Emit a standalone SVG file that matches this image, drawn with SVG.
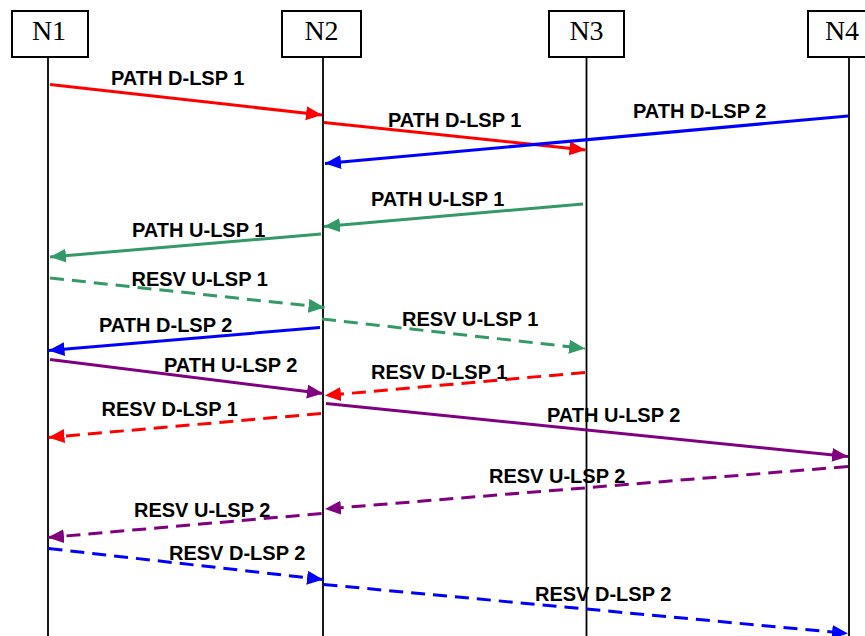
<svg xmlns="http://www.w3.org/2000/svg" width="865" height="636" viewBox="0 0 865 636">
<style>
.box{fill:#fff;stroke:#000;stroke-width:2}
.life{stroke:#000;stroke-width:1.8;fill:none}
.nt{font-family:"Liberation Serif","Times New Roman",serif;font-size:28px;fill:#000;text-anchor:middle}
.lb{font-family:"Liberation Sans",Arial,sans-serif;font-size:20px;font-weight:bold;fill:#000}
.a{fill:none;stroke-width:3}
.d{stroke-dasharray:14 8}
.red{stroke:#FF0000}.blue{stroke:#0000FF}.green{stroke:#339966}.purple{stroke:#800080}
</style>
<defs>
<marker id="mr" markerUnits="userSpaceOnUse" markerWidth="17" markerHeight="15" refX="16" refY="7" orient="auto"><path d="M0,0 L16,7 L0,14 z" fill="#FF0000"/></marker>
<marker id="mb" markerUnits="userSpaceOnUse" markerWidth="17" markerHeight="15" refX="16" refY="7" orient="auto"><path d="M0,0 L16,7 L0,14 z" fill="#0000FF"/></marker>
<marker id="mg" markerUnits="userSpaceOnUse" markerWidth="17" markerHeight="15" refX="16" refY="7" orient="auto"><path d="M0,0 L16,7 L0,14 z" fill="#339966"/></marker>
<marker id="mp" markerUnits="userSpaceOnUse" markerWidth="17" markerHeight="15" refX="16" refY="7" orient="auto"><path d="M0,0 L16,7 L0,14 z" fill="#800080"/></marker>
</defs>
<rect width="865" height="636" fill="#fff"/>
<g id="N1">
<line class="life" x1="48" y1="57" x2="48" y2="636"/>
<rect class="box" x="12" y="11" width="76" height="46"/>
<text class="nt" x="49" y="40">N1</text>
</g>
<g id="N2">
<line class="life" x1="323" y1="57" x2="323" y2="636"/>
<rect class="box" x="282" y="11" width="79" height="46"/>
<text class="nt" x="321.5" y="40">N2</text>
</g>
<g id="N3">
<line class="life" x1="586.5" y1="57" x2="586.5" y2="636"/>
<rect class="box" x="549" y="11" width="75" height="46"/>
<text class="nt" x="586.5" y="40">N3</text>
</g>
<g id="N4">
<line class="life" x1="849" y1="57" x2="849" y2="636"/>
<rect class="box" x="808" y="11" width="80" height="46"/>
<text class="nt" x="842" y="40">N4</text>
</g>
<g id="connectors">
<line class="a red" x1="50" y1="84.5" x2="322" y2="115" marker-end="url(#mr)"/>
<line class="a red" x1="324" y1="122.5" x2="585.5" y2="150" marker-end="url(#mr)"/>
<line class="a blue" x1="848" y1="116" x2="325" y2="163.5" marker-end="url(#mb)"/>
<line class="a green" x1="583" y1="204" x2="324" y2="226.5" marker-end="url(#mg)"/>
<line class="a green" x1="321" y1="234" x2="50" y2="257" marker-end="url(#mg)"/>
<line class="a green d" x1="50" y1="278" x2="324.5" y2="307.5" marker-end="url(#mg)"/>
<line class="a green d" x1="322" y1="319" x2="585" y2="348.5" marker-end="url(#mg)"/>
<line class="a blue" x1="320" y1="327.5" x2="48.5" y2="350.5" marker-end="url(#mb)"/>
<line class="a purple" x1="50" y1="359.5" x2="323" y2="393.5" marker-end="url(#mp)"/>
<line class="a red d" x1="585" y1="372.5" x2="325" y2="395.5" marker-end="url(#mr)"/>
<line class="a purple" x1="326" y1="403.5" x2="848" y2="456.5" marker-end="url(#mp)"/>
<line class="a red d" x1="321" y1="413.5" x2="48.5" y2="437.5" marker-end="url(#mr)"/>
<line class="a purple d" x1="848" y1="466.5" x2="325" y2="509" marker-end="url(#mp)"/>
<line class="a purple d" x1="321.5" y1="513.5" x2="48" y2="537.5" marker-end="url(#mp)"/>
<line class="a blue d" x1="48.5" y1="548.5" x2="323" y2="579.5" marker-end="url(#mb)"/>
<line class="a blue d" x1="323.5" y1="584.5" x2="848" y2="633.5" marker-end="url(#mb)"/>
</g>
<g id="labels">
<text class="lb" x="111" y="85">PATH D-LSP 1</text>
<text class="lb" x="388" y="126.5">PATH D-LSP 1</text>
<text class="lb" x="633" y="118">PATH D-LSP 2</text>
<text class="lb" x="371" y="206">PATH U-LSP 1</text>
<text class="lb" x="132" y="236.5">PATH U-LSP 1</text>
<text class="lb" x="131.5" y="285.5">RESV U-LSP 1</text>
<text class="lb" x="402" y="326">RESV U-LSP 1</text>
<text class="lb" x="99" y="332">PATH D-LSP 2</text>
<text class="lb" x="164" y="371.5">PATH U-LSP 2</text>
<text class="lb" x="371" y="379">RESV D-LSP 1</text>
<text class="lb" x="547" y="421.5">PATH U-LSP 2</text>
<text class="lb" x="101.5" y="415.5">RESV D-LSP 1</text>
<text class="lb" x="489" y="483">RESV U-LSP 2</text>
<text class="lb" x="134" y="516.5">RESV U-LSP 2</text>
<text class="lb" x="169" y="560">RESV D-LSP 2</text>
<text class="lb" x="535" y="600.5">RESV D-LSP 2</text>
</g>
</svg>
